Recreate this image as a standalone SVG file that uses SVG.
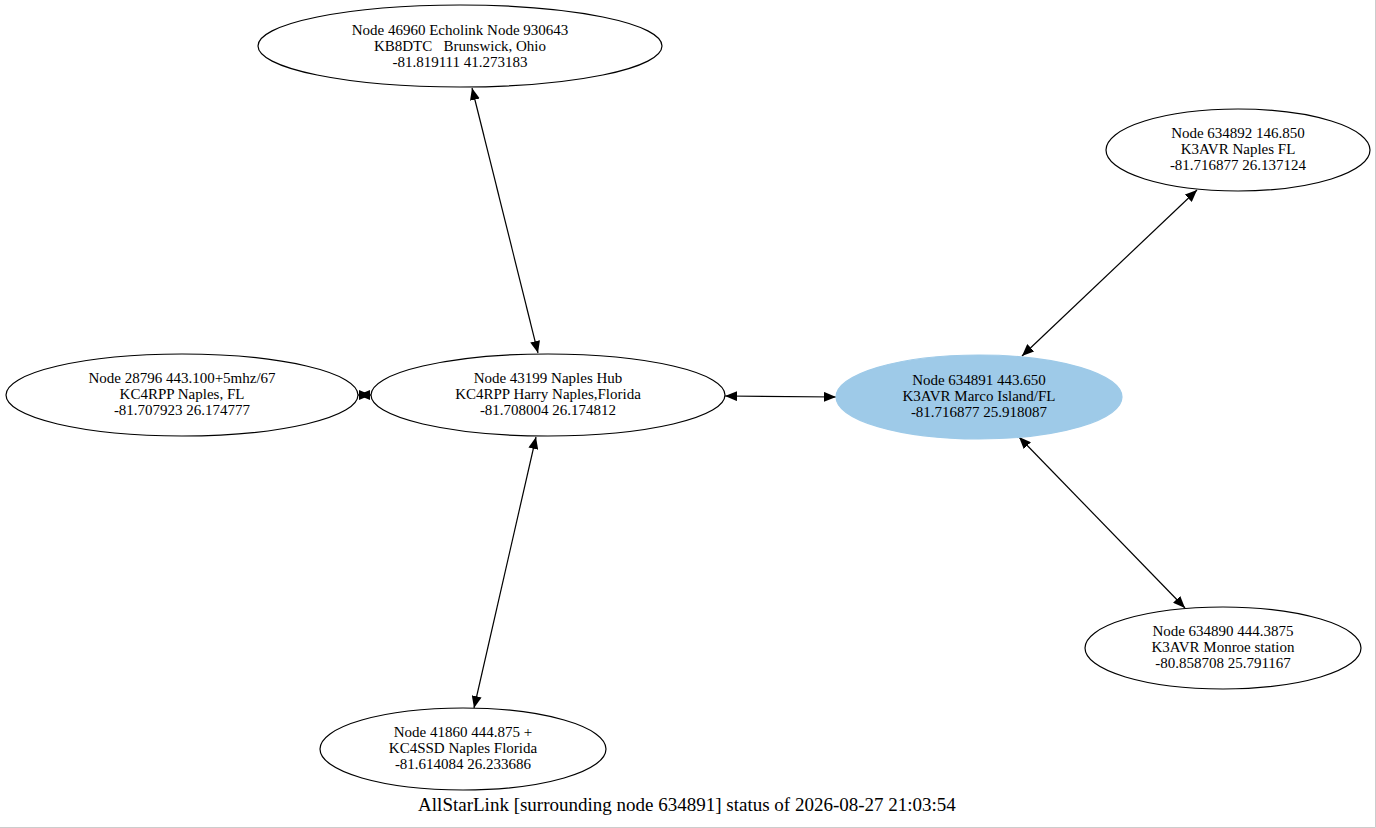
<svg xmlns="http://www.w3.org/2000/svg" width="1376" height="828" viewBox="0 0 1376 828">
<style>
.n ellipse{fill:#fff;stroke:#000;stroke-width:1.2}
text{font-family:"Liberation Serif",serif;font-size:15px;text-anchor:middle;fill:#000}
.e line{stroke:#000;stroke-width:1.2;marker-start:url(#a);marker-end:url(#a)}
</style>
<defs><marker id="a" markerWidth="12" markerHeight="10" refX="12" refY="5" orient="auto-start-reverse" markerUnits="userSpaceOnUse"><path d="M0,0L12,5L0,10Z" fill="#000"/></marker></defs>
<rect width="1376" height="828" fill="#fff"/>
<path d="M1375.5,0V827.5H0" fill="none" stroke="#ccc"/>
<g class="e">
<line x1="472" y1="88" x2="538" y2="353"/>
<line x1="725" y1="396" x2="836" y2="397"/>
<line x1="1022" y1="356" x2="1197" y2="190"/>
<line x1="1019" y1="437" x2="1185" y2="608"/>
<line x1="536" y1="437" x2="474" y2="708"/>
<line x1="358" y1="395" x2="371" y2="395"/>
</g>
<g id="n46960" class="n"><ellipse cx="460" cy="46" rx="202" ry="41"/><text x="460" y="35">Node 46960 Echolink Node 930643</text><text x="460" y="51" xml:space="preserve">KB8DTC   Brunswick, Ohio</text><text x="460" y="67">-81.819111 41.273183</text></g>
<g id="n634892" class="n"><ellipse cx="1238" cy="150" rx="132" ry="41"/><text x="1238" y="138">Node 634892 146.850</text><text x="1238" y="154">K3AVR Naples FL</text><text x="1238" y="170">-81.716877 26.137124</text></g>
<g id="n28796" class="n"><ellipse cx="182" cy="395" rx="176" ry="41"/><text x="182" y="383">Node 28796 443.100+5mhz/67</text><text x="182" y="399">KC4RPP Naples, FL</text><text x="182" y="415">-81.707923 26.174777</text></g>
<g id="n43199" class="n"><ellipse cx="548" cy="395" rx="177" ry="41"/><text x="548" y="383">Node 43199 Naples Hub</text><text x="548" y="399">KC4RPP Harry Naples,Florida</text><text x="548" y="415">-81.708004 26.174812</text></g>
<g id="n634891" class="n"><ellipse cx="979" cy="397" rx="143" ry="42" style="fill:#9ecae8;stroke:#9ecae8"/><text x="979" y="385">Node 634891 443.650</text><text x="979" y="401">K3AVR Marco Island/FL</text><text x="979" y="417">-81.716877 25.918087</text></g>
<g id="n634890" class="n"><ellipse cx="1223" cy="648" rx="138" ry="41"/><text x="1223" y="636">Node 634890 444.3875</text><text x="1223" y="652">K3AVR Monroe station</text><text x="1223" y="668">-80.858708 25.791167</text></g>
<g id="n41860" class="n"><ellipse cx="463" cy="749" rx="143" ry="41"/><text x="463" y="737">Node 41860 444.875 +</text><text x="463" y="753">KC4SSD Naples Florida</text><text x="463" y="769">-81.614084 26.233686</text></g>
<text x="687" y="811" style="font-size:19px">AllStarLink [surrounding node 634891] status of 2026-08-27 21:03:54</text>
</svg>
